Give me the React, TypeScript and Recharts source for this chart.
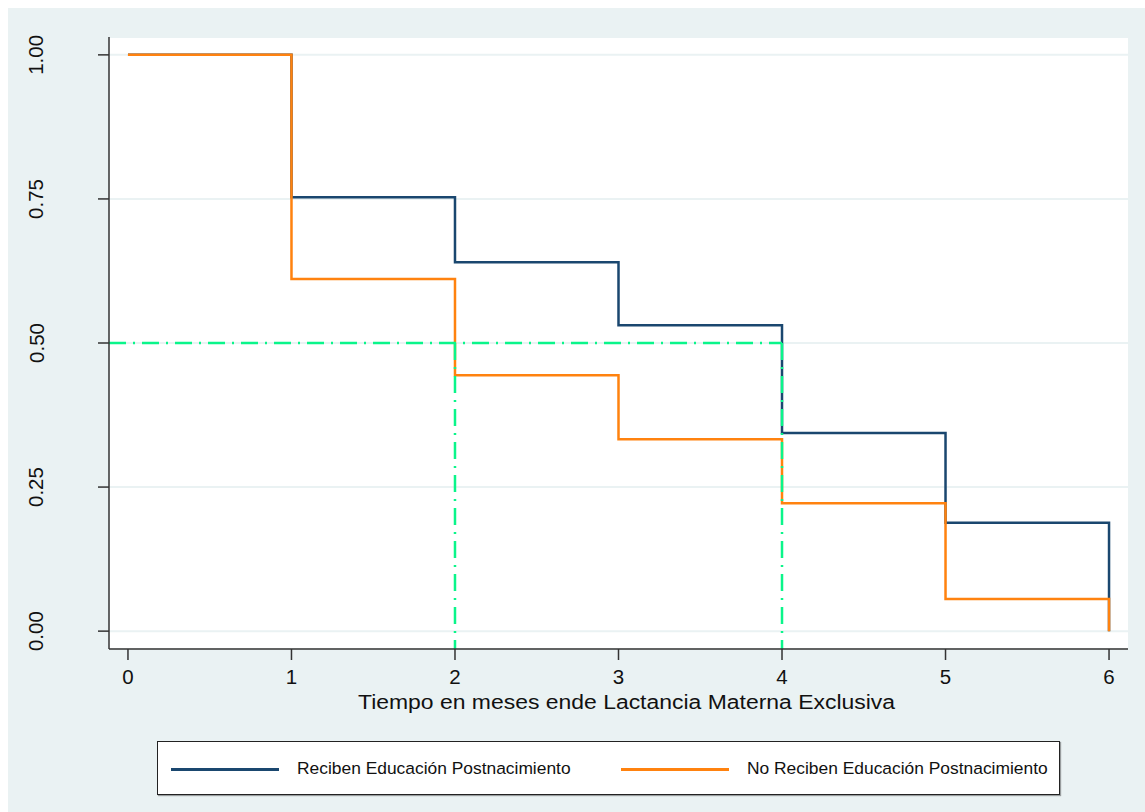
import React from "react";
import { LineChart, Line, XAxis, YAxis, CartesianGrid, ReferenceLine } from "recharts";

const months = [0, 1, 2, 3, 4, 5, 6];
const reciben = [1.0, 0.753, 0.64, 0.531, 0.344, 0.188, 0.0];
const noReciben = [1.0, 0.611, 0.444, 0.333, 0.222, 0.0556, 0.0];
const yTicks = [0, 0.25, 0.5, 0.75, 1];
const xTicks = [0, 1, 2, 3, 4, 5, 6];
const medianLevel = 0.5;
const medianTimes = [2, 4];
const seriesNames = ["Reciben Educación Postnacimiento", "No Reciben Educación Postnacimiento"];
const xTitle = "Tiempo en meses ende Lactancia Materna Exclusiva";

const data = months.map((m, i) => ({ t: m, a: reciben[i], b: noReciben[i] }));

const BLUE = "#1A476F";
const ORANGE = "#FF820F";
const GREEN = "#0AF58A";
const BG = "#EAF2F3";
const FONT = "'Liberation Sans', Arial, sans-serif";

const X_DOMAIN: [number, number] = [-0.116, 6.116];
const Y_DOMAIN: [number, number] = [-0.031, 1.031];

const YTick = (props: any) => {
  const { y, payload } = props;
  return (
    <text
      x={28}
      y={y}
      transform={`rotate(-90, 28, ${y})`}
      textAnchor="middle"
      dominantBaseline="central"
      fontSize={20.5}
      fontFamily={FONT}
      fill="#111"
    >
      {payload.value.toFixed(2)}
    </text>
  );
};

const XTick = (props: any) => {
  const { x, y, payload } = props;
  return (
    <text x={x} y={y + 22} textAnchor="middle" fontSize={20.5} fontFamily={FONT} fill="#111">
      {payload.value}
    </text>
  );
};

const XTitle = (props: any) => {
  const { viewBox } = props;
  const cx = viewBox.x + viewBox.width / 2 + 8;
  return (
    <text
      x={cx}
      y={viewBox.y + 60}
      textAnchor="middle"
      fontSize={20}
      fontFamily={FONT}
      fill="#111"
      textLength={537}
      lengthAdjust="spacingAndGlyphs"
    >
      {xTitle}
    </text>
  );
};

const LegendBox = () => (
  <div
    style={{
      position: "absolute",
      left: 149,
      top: 733,
      width: 903,
      height: 54,
      boxSizing: "border-box",
      background: "#fff",
      border: "1px solid #222",
      boxShadow: "1px 1px 1px rgba(0,0,0,0.35)",
      fontFamily: FONT,
      fontSize: 17.4,
      color: "#111",
    }}
  >
    <div style={{ position: "absolute", left: 13, top: 26, width: 108, height: 3, background: BLUE }} />
    <div style={{ position: "absolute", left: 139, top: 16, whiteSpace: "nowrap" }}>{seriesNames[0]}</div>
    <div style={{ position: "absolute", left: 463, top: 26, width: 108, height: 3, background: ORANGE }} />
    <div style={{ position: "absolute", left: 589, top: 16, whiteSpace: "nowrap" }}>{seriesNames[1]}</div>
  </div>
);

export default function App() {
  return (
    <div style={{ position: "fixed", left: 8, top: 8, width: 1137, height: 804, background: BG }}>
      <LineChart width={1137} height={804} data={data} margin={{ top: 29, right: 17, left: 0, bottom: 0 }}>
        <CartesianGrid horizontal vertical={false} stroke={BG} strokeWidth={2} fill="#fff" />
        <XAxis
          dataKey="t"
          type="number"
          domain={X_DOMAIN}
          ticks={xTicks}
          height={163}
          tick={<XTick />}
          tickSize={11}
          stroke="#333"
          strokeWidth={1.5}
          tickLine={{ stroke: "#333", strokeWidth: 1.5 }}
          label={<XTitle />}
        />
        <YAxis
          type="number"
          domain={Y_DOMAIN}
          ticks={yTicks}
          width={101}
          tick={<YTick />}
          tickSize={11}
          stroke="#333"
          strokeWidth={1.5}
          tickLine={{ stroke: "#333", strokeWidth: 1.5 }}
        />
        <Line
          type="stepAfter"
          dataKey="a"
          name={seriesNames[0]}
          stroke={BLUE}
          strokeWidth={2.5}
          dot={false}
          isAnimationActive={false}
        />
        <Line
          type="stepAfter"
          dataKey="b"
          name={seriesNames[1]}
          stroke={ORANGE}
          strokeWidth={2.5}
          dot={false}
          isAnimationActive={false}
        />
        <ReferenceLine
          segment={[
            { x: X_DOMAIN[0], y: medianLevel },
            { x: medianTimes[1], y: medianLevel },
          ]}
          stroke={GREEN}
          strokeWidth={2.5}
          strokeDasharray="17 7 2 7"
        />
        {medianTimes.map((t) => (
          <ReferenceLine
            key={t}
            segment={[
              { x: t, y: medianLevel },
              { x: t, y: Y_DOMAIN[0] },
            ]}
            stroke={GREEN}
            strokeWidth={2.5}
            strokeDasharray="17 7 2 7"
          />
        ))}
      </LineChart>
      <LegendBox />
    </div>
  );
}
